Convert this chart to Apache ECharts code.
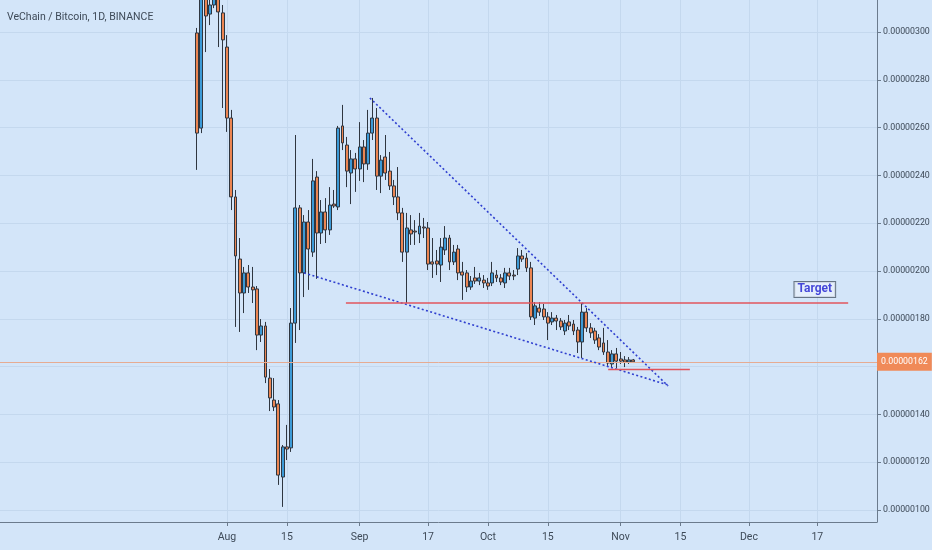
<!DOCTYPE html>
<html><head><meta charset="utf-8">
<script src="https://cdn.jsdelivr.net/npm/echarts@6/dist/echarts.min.js"></script>
<style>html,body{margin:0;padding:0;background:#d3e5f9;}#chart{width:932px;height:550px;}</style>
</head><body><div id="chart"></div>
<script>
// Title
const titleText = 'VeChain / Bitcoin, 1D, BINANCE';
// Daily candles from this date on (one per day); values in satoshi (1e-8 BTC)
const firstDate = '2018-07-25';
const axisOrigin = '2018-08-01'; // x axis unit: days since this date
const openSat = [299.6,259.8,316.5,307.5,311.3,317.0,308.0,293.7,264.0,231.0,205.0,190.8,199.2,193.3,192.5,173.2,177.0,155.2,146.0,144.4,113.8,126.4,126.0,178.2,226.4,199.2,220.5,207.9,239.3,215.9,224.7,217.2,228.0,226.8,260.7,252.7,241.0,246.9,242.7,251.9,244.8,257.7,264.0,239.7,247.7,241.8,235.6,231.0,224.3,207.9,217.2,216.7,215.5,218.4,218.0,203.8,204.2,202.5,208.8,213.8,203.8,209.2,199.6,199.2,193.3,197.1,195.8,196.2,195.0,195.0,198.3,197.1,195.0,199.2,198.3,200.8,206.3,205.4,201.3,180.3,184.5,184.1,180.8,178.7,180.3,179.1,174.9,178.7,177.8,175.3,170.3,182.8,176.2,174.9,172.0,169.9,166.1,161.1,165.3,163.2,162.8,161.9,162.8];
const closeSat = [257.7,318.0,306.7,311.3,317.0,308.4,296.7,264.0,231.0,206.3,190.8,199.2,193.3,192.1,173.2,177.0,155.6,146.9,143.1,114.6,126.4,125.5,178.2,226.4,199.2,220.5,209.2,237.7,215.9,224.7,217.2,227.6,227.2,259.8,253.6,241.8,246.9,242.7,251.9,244.8,257.7,264.0,239.7,246.4,241.0,235.6,231.0,224.3,207.9,218.0,215.5,216.3,218.8,218.0,202.9,202.9,202.9,210.0,213.8,203.8,207.9,199.2,198.3,193.3,195.8,195.8,197.1,195.0,193.7,199.2,197.1,195.4,199.2,197.9,197.9,206.3,205.0,201.3,180.8,185.4,182.8,180.8,178.2,180.3,179.1,176.6,178.2,177.0,174.9,170.3,182.8,176.2,174.1,171.1,168.2,166.1,161.5,165.3,162.3,162.3,161.9,162.8,162.0];
const lowSat = [242.3,257.7,291.6,302.9,310.0,293.7,268.2,258.2,225.5,176.6,174.5,182.4,190.8,186.6,166.9,170.3,153.1,141.4,141.4,110.5,101.3,120.9,124.3,169.9,175.3,189.1,192.1,205.9,196.7,211.3,211.7,215.1,226.4,225.5,250.6,235.1,228.0,233.1,237.7,237.2,242.3,254.8,233.9,232.6,238.1,233.9,227.6,221.3,203.8,186.6,210.9,210.9,211.7,213.8,200.4,197.1,198.3,195.4,206.7,200.4,202.5,196.2,187.9,191.2,192.1,194.6,194.1,192.9,192.1,193.7,195.4,194.1,192.9,196.2,196.2,198.3,203.8,199.6,179.5,177.4,181.2,179.5,171.1,177.4,175.3,175.3,173.2,175.3,173.2,165.7,163.6,174.5,172.0,169.5,166.9,164.9,160.3,159.4,159.4,161.1,159.8,161.1,161.5];
const highSat = [301.7,323.0,320.0,314.0,320.5,321.0,311.3,298.7,267.4,233.9,213.8,201.7,202.5,201.7,193.7,179.9,178.7,159.0,155.2,146.0,127.2,135.6,184.5,256.9,227.6,223.4,225.5,246.9,241.8,229.7,230.5,235.1,233.9,260.7,269.5,256.1,250.6,249.4,262.3,254.8,267.4,272.4,268.2,248.5,256.9,249.8,238.1,243.5,226.4,224.3,223.4,221.3,224.3,222.2,220.5,213.8,208.8,213.8,218.8,215.1,210.9,210.9,203.8,200.4,197.9,201.7,199.2,198.3,197.1,203.8,200.4,198.7,201.3,201.3,200.4,209.6,208.8,207.5,203.8,187.0,187.0,186.2,182.8,182.8,181.6,180.3,179.5,181.6,179.5,176.6,186.6,184.5,178.2,176.2,173.6,176.2,171.1,166.9,167.8,166.1,164.4,164.0,163.2];
// Axis ticks
const yTickValues = [100,120,140,160,180,200,220,240,260,280,300];
const yLabelValues = [100,120,140,180,200,220,240,260,280,300]; // 160 sits under the price tag
const xTickDates = ['2018-08-01','2018-08-15','2018-09-01','2018-09-17','2018-10-01','2018-10-15','2018-11-01','2018-11-15','2018-12-01','2018-12-17'];
const xTickLabels = ['Aug','15','Sep','17','Oct','15','Nov','15','Dec','17'];
// Last price (satoshi)
const lastPrice = 162;
// Drawings: [days since 2018-08-01, satoshi]
const wedgeUpper = [[33.4,272.4],[103.1,151.9]];
const wedgeLower = [[18.0,199.2],[103.1,152.3]];
const targetLine = [[27.8,186.6],[145.2,186.6]];
const supportLine = [[89.1,158.8],[108.2,158.8]];
const targetText = 'Target';
const targetTextAt = [137.4,192.3];

const DAY = 86400000;
const dayOf = s => Math.round((Date.parse(s) - Date.parse(axisOrigin)) / DAY);
const startDay = dayOf(firstDate);
const candleData = openSat.map((o, i) => [startDay + i, o, closeSat[i], lowSat[i], highSat[i]]);
const xTickDays = xTickDates.map(dayOf);
const xLabelMap = {};
xTickDays.forEach((d, i) => { xLabelMap[d] = xTickLabels[i]; });

const font = "Roboto, 'Liberation Sans', sans-serif";
const axisColor = '#6b7b8d';
const textColor = '#3e4a58';
const gridColor = '#c4d8ee';

const chart = echarts.init(document.getElementById('chart'));
chart.setOption({
  backgroundColor: '#d3e5f9',
  animation: false,
  title: { text: titleText, left: 2, top: 7, textStyle: { fontSize: 10.5, fontWeight: 'normal', color: textColor, fontFamily: font } },
  grid: { left: 0, right: 55, top: 0, bottom: 28, outerBoundsMode: 'none', containLabel: false },
  xAxis: {
    type: 'value', min: -53.06, max: 151.94,
    axisLine: { show: true, onZero: false, lineStyle: { color: axisColor } },
    axisTick: { show: true, customValues: xTickDays, length: 4, lineStyle: { color: axisColor } },
    axisLabel: { customValues: xTickDays, formatter: v => xLabelMap[Math.round(v)] || '', color: textColor, fontSize: 10.5, fontFamily: font, margin: 10 },
    splitLine: { show: true, lineStyle: { color: gridColor } }
  },
  yAxis: {
    type: 'value', position: 'right', min: 94.98, max: 313.39,
    axisLine: { show: true, onZero: false, lineStyle: { color: axisColor } },
    axisTick: { show: true, customValues: yTickValues, length: 4, lineStyle: { color: axisColor } },
    axisLabel: { customValues: yLabelValues, formatter: v => (v / 1e8).toFixed(8), color: textColor, fontSize: 8.8, fontFamily: font, margin: 6 },
    splitLine: { show: true, lineStyle: { color: gridColor } }
  },
  series: [
    {
      type: 'candlestick', name: 'VETBTC',
      dimensions: ['x', 'open', 'close', 'lowest', 'highest'],
      encode: { x: 'x', y: ['open', 'close', 'lowest', 'highest'] },
      data: candleData, barWidth: 3.4, clip: true,
      itemStyle: { color: '#3c9ad7', color0: '#ec8552', borderColor: '#2f3640', borderColor0: '#2f3640', borderWidth: 1 },
      markLine: {
        silent: true, symbol: 'none', animation: false,
        data: [{ yAxis: lastPrice }],
        lineStyle: { color: '#e6ab92', type: 'solid', width: 1 },
        label: { position: 'end', distance: 0, formatter: () => (lastPrice / 1e8).toFixed(8), color: '#ffffff', backgroundColor: '#f08a58', padding: [5, 4, 4, 4], fontSize: 8.8, fontFamily: font }
      }
    },
    { type: 'line', data: wedgeUpper, showSymbol: false, silent: true, z: 5, lineStyle: { color: '#2f3fcf', width: 1.6, type: [2, 2.4] } },
    { type: 'line', data: wedgeLower, showSymbol: false, silent: true, z: 5, lineStyle: { color: '#2f3fcf', width: 1.6, type: [2, 2.4] } },
    { type: 'line', data: targetLine, showSymbol: false, silent: true, z: 5, lineStyle: { color: '#e2545c', width: 1.4 } },
    { type: 'line', data: supportLine, showSymbol: false, silent: true, z: 5, lineStyle: { color: '#e2545c', width: 1.4 } },
    {
      type: 'scatter', data: [targetTextAt], symbolSize: 0, silent: true, z: 6,
      label: { show: true, position: 'inside', formatter: targetText, color: '#1b1bd0', fontWeight: 'bold', fontSize: 12, fontFamily: font, backgroundColor: '#e9f0fb', borderColor: '#4b5868', borderWidth: 1, padding: [2, 3, 1, 3] }
    }
  ]
});
</script></body></html>
